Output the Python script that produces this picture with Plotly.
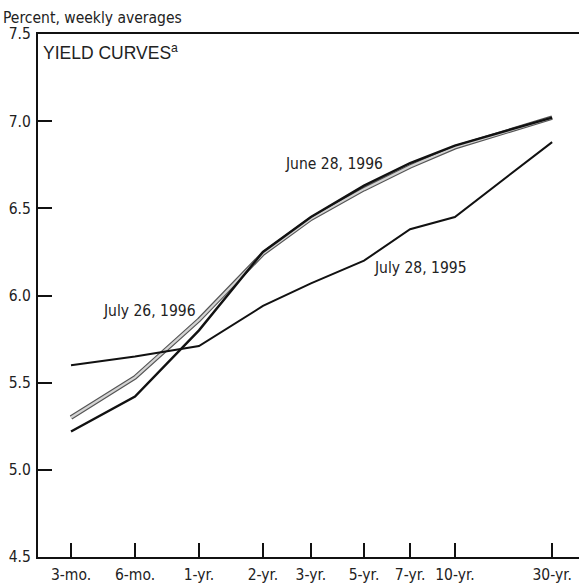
import plotly.graph_objects as go

maturities = ["3-mo.", "6-mo.", "1-yr.", "2-yr.", "3-yr.", "5-yr.", "7-yr.", "10-yr.", "30-yr."]
maturity_pos = [0, 1, 2, 3, 3.75, 4.58, 5.3, 6.0, 7.52]

july_28_1995 = [5.60, 5.65, 5.71, 5.94, 6.07, 6.20, 6.38, 6.45, 6.88]
june_28_1996 = [5.22, 5.42, 5.80, 6.25, 6.45, 6.63, 6.76, 6.86, 7.02]
july_26_1996 = [5.30, 5.53, 5.86, 6.24, 6.44, 6.61, 6.74, 6.85, 7.02]

y_ticks = [4.5, 5.0, 5.5, 6.0, 6.5, 7.0, 7.5]
y_tick_labels = ["4.5", "5.0", "5.5", "6.0", "6.5", "7.0", "7.5"]

NARROW = "DejaVu Sans Condensed, Liberation Sans Narrow, sans-serif"
FS = 15.5

fig = go.Figure()
# July 26, 1996: outlined gray band
fig.add_trace(go.Scatter(x=maturity_pos, y=july_26_1996, mode="lines",
                         line=dict(color="#555555", width=4.5), hoverinfo="skip"))
fig.add_trace(go.Scatter(x=maturity_pos, y=july_26_1996, mode="lines",
                         line=dict(color="#d4d4d4", width=2.2), hoverinfo="skip"))
fig.add_trace(go.Scatter(x=maturity_pos, y=july_28_1995, mode="lines",
                         line=dict(color="#111111", width=2), hoverinfo="skip"))
fig.add_trace(go.Scatter(x=maturity_pos, y=june_28_1996, mode="lines",
                         line=dict(color="#111111", width=2.4), hoverinfo="skip"))

ann_font = dict(family=NARROW, size=FS, color="#222222")
fig.update_layout(
    template="none",
    width=579, height=587,
    margin=dict(l=38, r=0, t=34, b=30, autoexpand=False),
    paper_bgcolor="white", plot_bgcolor="white",
    showlegend=False,
    xaxis=dict(range=[-0.516, 7.94], tickmode="array", tickvals=maturity_pos,
               ticktext=maturities, ticks="inside", ticklen=14, tickwidth=2,
               tickcolor="#111111", showline=True, linecolor="#111111", linewidth=2,
               mirror=True, showgrid=False, zeroline=False, automargin=False,
               ticklabelstandoff=2,
               tickfont=dict(family=NARROW, size=FS, color="#222222")),
    yaxis=dict(range=[4.5, 7.5], tickmode="array", tickvals=y_ticks,
               ticktext=y_tick_labels, ticks="inside", ticklen=14, tickwidth=2,
               tickcolor="#111111", showline=True, linecolor="#111111", linewidth=2,
               mirror=False, showgrid=False, zeroline=False, automargin=False,
               ticklabelstandoff=2,
               tickfont=dict(family=NARROW, size=FS, color="#222222")),
    annotations=[
        dict(text="Percent, weekly averages", xref="paper", yref="paper",
             x=-0.068, y=1.052, xanchor="left", yanchor="top", showarrow=False,
             font=ann_font),
        dict(text="YIELD CURVES<sup>a</sup>", xref="paper", yref="paper",
             x=0.006, y=0.991, xanchor="left", yanchor="top", showarrow=False,
             font=dict(family="Liberation Sans, Arial, sans-serif", size=17.5, color="#222222")),
        dict(text="June 28, 1996", x=4.11, y=6.755, showarrow=False, font=ann_font),
        dict(text="July 28, 1995", x=5.47, y=6.16, showarrow=False, font=ann_font),
        dict(text="July 26, 1996", x=1.23, y=5.91, showarrow=False, font=ann_font),
    ],
)

fig.write_html("out.html", config={"displayModeBar": False},
               post_script="document.body.style.margin='0';")
